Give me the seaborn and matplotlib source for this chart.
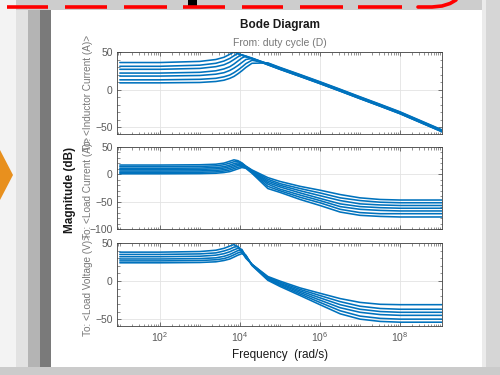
import matplotlib
matplotlib.use("Agg")
import matplotlib.pyplot as plt
import matplotlib.ticker as mticker
from matplotlib.patches import Rectangle, Polygon
import numpy as np
import pandas as pd
import seaborn as sns

# ---------------- data ----------------
freq_rad_s = [10, 100, 1000, 2500, 4000, 5600, 7100, 8900, 11200, 14100,
              20000, 50000, 1e5, 3.2e5, 1e6, 3.2e6, 1e7, 3.2e7, 1e8, 1.12e9]

inductor_current_db = [
    [36, 36, 37.5, 40, 43, 47, 50, 48, 45.5, 43.5, 41, 33, 27, 17.5, 8, -2, -12, -22, -32, -56],
    [31, 31, 32.5, 35, 38, 41.5, 45, 48, 46, 44, 41, 33, 27, 17.5, 8, -2, -12, -22, -32, -56],
    [27, 27, 28.2, 30.5, 33, 36.5, 40, 43.5, 46.5, 44.5, 41.5, 33.5, 27.5, 18, 8.5, -1.5, -11.5, -21.5, -31.5, -55.5],
    [22, 22, 23, 25, 27.5, 30.5, 34, 38, 42, 44.5, 42, 34, 28, 18.5, 9, -1, -11, -21, -31, -55],
    [18, 18, 18.8, 20.5, 22.5, 25.5, 28.5, 32, 36, 40, 41.5, 34.5, 28.5, 19, 9.5, -0.5, -10.5, -20.5, -30.5, -54.5],
    [13, 13, 13.7, 15, 17, 19.5, 22.5, 26, 30, 34.5, 39, 35, 29, 19.5, 10, 0, -10, -20, -30, -54],
    [9, 9, 9.5, 10.8, 12.5, 15, 17.5, 21, 25, 29.5, 35, 35.5, 29.5, 20, 10.5, 0.5, -9.5, -19.5, -29.5, -53.5],
]

load_current_db = [
    [17, 17, 17.5, 18.5, 20.5, 24, 26.5, 25, 21, 15, 8, -6, -13, -22, -29, -37, -43, -46, -47, -47],
    [14, 14, 14.5, 15.5, 17.5, 20.5, 23, 23.5, 20, 14.5, 7, -9, -17, -26, -34, -43, -48, -51, -52, -52],
    [11, 11, 11.5, 12.5, 14, 17, 19.5, 21, 19, 14, 6, -12, -20, -30, -39, -48, -54, -56, -57, -57],
    [8.5, 8.5, 9, 10, 11.5, 14, 16.5, 18.5, 18, 13.5, 5, -15, -23, -34, -44, -54, -59, -61, -62, -62],
    [6, 6, 6.3, 7.2, 8.5, 11, 13.5, 16, 16.5, 13, 4, -18, -27, -38, -48, -59, -64, -66, -67, -67],
    [3.5, 3.5, 3.8, 4.5, 6, 8, 10.5, 13, 14.5, 12, 3, -22, -30, -42, -52, -64, -70, -72, -72, -72],
    [1, 1, 1.3, 2, 3.3, 5, 7.5, 10, 12.5, 11, 2, -26, -33, -46, -57, -69, -75, -77, -78, -78],
]

load_voltage_db = [
    [38, 38, 38.8, 40.5, 43, 46, 48, 45, 38, 30, 22, 6, 0, -9, -16, -23, -28, -30.5, -31, -31],
    [35, 35, 35.7, 37, 39.5, 42, 44.5, 45.5, 40, 31, 22, 5, -1.5, -11, -19, -27, -33, -36, -37, -37],
    [32, 32, 32.6, 34, 36, 38.5, 41, 43, 41.5, 32, 22, 4, -3, -13, -22, -31, -37, -40, -41, -41],
    [29, 29, 29.5, 30.5, 32.5, 35, 37.5, 40, 40.5, 33, 21.5, 3, -4, -15, -25, -35, -41, -44, -45, -45],
    [26.5, 26.5, 27, 28, 29.5, 32, 34.5, 37, 38.5, 34, 21, 2, -5.5, -17, -28, -39, -46, -49, -50, -50],
    [24, 24, 24.4, 25.3, 27, 29, 31.5, 34, 36, 33.5, 20.5, 1, -7, -19, -31, -43, -50, -53, -54, -54],
]

row_labels = ["To: <Inductor Current (A)>", "To: <Load Current (A)>", "To: <Load Voltage (V)>"]
row_ylims = [(-59, 50), (-100, 50), (-59, 50)]
row_yticks = [[-50, 0, 50], [-100, -50, 0, 50], [-50, 0, 50]]
x_ticks = [1e2, 1e4, 1e6, 1e8]
title_text = "Bode Diagram"
subtitle_text = "From: duty cycle (D)"
xlabel_text = "Frequency  (rad/s)"
ylabel_text = "Magnitude (dB)"

# ---------------- figure ----------------
sns.set_theme(style="ticks")
plt.rcParams['font.family'] = ['Liberation Sans', 'DejaVu Sans']

W, H = 500, 375
fig = plt.figure(figsize=(5, 3.75), dpi=100)

# background decoration (screenshot frame)
bg = fig.add_axes([0, 0, 1, 1], zorder=-10)
bg.set_xlim(0, W)
bg.set_ylim(H, 0)
bg.axis("off")
bg.add_patch(Rectangle((0, 0), W, H, color="#e4e4e4", lw=0))
bg.add_patch(Rectangle((0, 0), W, 11, color="#cdcdcd", lw=0))
bg.add_patch(Rectangle((0, 0), 16, H, color="#f3f3f3", lw=0))
bg.add_patch(Rectangle((16, 10), 12, H, color="#e2e2e2", lw=0))
bg.add_patch(Rectangle((28, 10), 12, H, color="#b4b4b4", lw=0))
bg.add_patch(Rectangle((40, 10), 11, H, color="#7a7a7a", lw=0))
bg.add_patch(Rectangle((482, 0), 18, H, color="#d6d6d6", lw=0))
bg.add_patch(Rectangle((482, 0), 4, H, color="#ebebeb", lw=0))
bg.add_patch(Rectangle((0, 367), W, 8, color="#cbcbcb", lw=0))
bg.add_patch(Rectangle((51, 10), 431, 357, color="white", lw=0))
bg.add_patch(Polygon([(0, 150), (13, 175), (0, 200)], closed=True, color="#e8901e", lw=0))
bg.add_patch(Rectangle((188, 0), 9, 6, color="black", lw=0))
for x0, x1 in [(7, 48), (65, 107), (124, 167), (183, 225), (242, 283), (300, 343), (358, 402)]:
    bg.plot([x0, x1], [7, 7], color="#ff0000", lw=2.6, solid_capstyle="butt")
bg.plot([418, 432, 442, 450, 456], [7, 7, 6, 3.5, 0], color="#ff0000", lw=2.6)

blue = "#0072BD"
panels = [inductor_current_db, load_current_db, load_voltage_db]
boxes = [(52, 134), (147, 229), (243, 326)]
ax_left, ax_right = 117, 442

axes = []
for i, (curves, (top, bottom)) in enumerate(zip(panels, boxes)):
    ax = fig.add_axes([ax_left / W, 1 - bottom / H, (ax_right - ax_left) / W, (bottom - top) / H])
    axes.append(ax)
    rows = []
    for k, c in enumerate(curves):
        for f, m in zip(freq_rad_s, c):
            rows.append({"freq": f, "mag": m, "curve": k})
    df = pd.DataFrame(rows)
    ax.set_xscale("log")
    sns.lineplot(data=df, x="freq", y="mag", hue="curve", palette=[blue] * len(curves),
                 legend=False, ax=ax, estimator=None, sort=False, lw=1.15)
    ax.set_xlim(8.5, 1.12e9)
    ax.set_ylim(*row_ylims[i])
    ax.set_yticks(row_yticks[i])
    ax.set_xticks(x_ticks)
    ax.xaxis.set_minor_locator(mticker.LogLocator(base=10, subs=np.arange(1, 10), numticks=100))
    ax.xaxis.set_minor_formatter(mticker.NullFormatter())
    ax.yaxis.set_minor_locator(mticker.MultipleLocator(10))
    ax.grid(True, which="major", color="#e3e3e3", lw=0.6)
    ax.set_axisbelow(True)
    ax.tick_params(which="both", direction="in", top=True, right=True, color="#404040",
                   labelsize=7.5, labelcolor="#5a5a5a", pad=3)
    ax.tick_params(which="major", length=3, width=0.5)
    ax.tick_params(which="minor", length=1.8, width=0.4)
    for s in ax.spines.values():
        s.set_color("#404040")
        s.set_linewidth(0.6)
    ax.set_xlabel("")
    ax.set_ylabel(row_labels[i], fontsize=7.2, color="#777777")
    ax.yaxis.set_label_coords(-0.075, 0.5)
    if i < 2:
        ax.tick_params(labelbottom=False)
    else:
        ax.xaxis.set_major_formatter(mticker.LogFormatterSciNotation())

fig.text(280 / W, 1 - 25 / H, title_text, ha="center", va="center", fontsize=8.5,
         fontweight="bold", color="#1a1a1a")
fig.text(280 / W, 1 - 43 / H, subtitle_text, ha="center", va="center", fontsize=7.5,
         color="#777777")
fig.text(280 / W, 1 - 355 / H, xlabel_text, ha="center", va="center", fontsize=8.5,
         color="#1a1a1a")
fig.text(70 / W, 1 - 190 / H, ylabel_text, ha="center", va="center", rotation=90,
         fontsize=8.5, fontweight="bold", color="#1a1a1a")

fig.savefig("out.png", dpi=100)
